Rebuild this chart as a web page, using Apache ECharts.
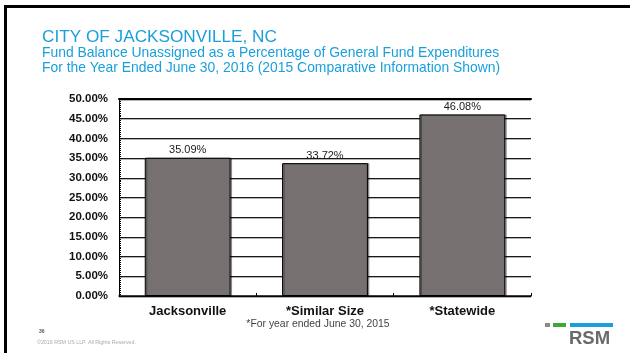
<!DOCTYPE html>
<html>
<head>
<meta charset="utf-8">
<script src="https://cdn.jsdelivr.net/npm/echarts@6/dist/echarts.min.js"></script>
<style>
  html, body { margin: 0; padding: 0; background: #fff; }
  #chart { width: 630px; height: 353px; }
</style>
</head>
<body>
<div id="chart"></div>
<script>
// Unassigned fund balance as % of general fund expenditures
const categories = ['Jacksonville', '*Similar Size', '*Statewide'];
const fundBalancePct = [35.09, 33.72, 46.08];
const yTickMin = 0;
const yTickMax = 50;
const yTickStep = 5;

const titleText = 'CITY OF JACKSONVILLE, NC';
const subtitleLines = [
  'Fund Balance Unassigned as a Percentage of General Fund Expenditures',
  'For the Year Ended June 30, 2016 (2015 Comparative Information Shown)'
];
const footnote = '*For year ended June 30, 2015';
const pageNumber = '36';
const copyright = '\u00A92016 RSM US LLP. All Rights Reserved.';

const blue = '#1a9fdc';
const chart = echarts.init(document.getElementById('chart'), null, { renderer: 'canvas' });

const hiddenAxisBase = {
  type: 'category',
  data: categories,
  gridIndex: 0,
  axisLabel: { show: false },
  splitLine: { show: false }
};

chart.setOption({
  animation: false,
  backgroundColor: '#fff',
  grid: { left: 119, right: 99, top: 99, bottom: 57, containLabel: false },
  xAxis: [
    {
      type: 'category',
      data: categories,
      position: 'bottom',
      axisLine: { show: true, lineStyle: { color: '#000', width: 1.5 } },
      axisTick: { show: true, inside: true, length: 3, lineStyle: { color: '#000' } },
      axisLabel: {
        margin: 9,
        color: '#111',
        fontFamily: 'Liberation Sans, Arial',
        fontWeight: 'bold',
        fontSize: 13
      },
      splitLine: { show: false }
    },
    Object.assign({}, hiddenAxisBase, {
      position: 'bottom',
      axisLine: { show: false },
      axisTick: { show: true, inside: true, alignWithLabel: true, length: 3, lineStyle: { color: '#000' } }
    }),
    Object.assign({}, hiddenAxisBase, {
      position: 'top',
      axisLine: { show: true, lineStyle: { color: '#000', width: 2 } },
      axisTick: { show: false }
    })
  ],
  yAxis: {
    type: 'value',
    min: yTickMin,
    max: yTickMax,
    interval: yTickStep,
    axisLine: { show: true, lineStyle: { color: '#000', width: 1 } },
    axisTick: { show: true, inside: true, length: 3, lineStyle: { color: '#000' } },
    minorTick: { show: true, splitNumber: 10, length: 2, lineStyle: { color: '#000' } },
    axisLabel: {
      margin: 11,
      color: '#111',
      fontFamily: 'Liberation Sans, Arial',
      fontWeight: 'bold',
      fontSize: 11.5,
      formatter: v => v.toFixed(2) + '%'
    },
    splitLine: {
      show: true,
      lineStyle: { color: '#1a1a1a', width: 1, shadowColor: 'rgba(0,0,0,0.3)', shadowOffsetY: 1, shadowBlur: 0 }
    }
  },
  series: [{
    type: 'bar',
    xAxisIndex: 0,
    data: fundBalancePct,
    barCategoryGap: '37.5%',
    itemStyle: {
      color: '#767170',
      borderColor: '#000',
      borderWidth: 1,
      shadowColor: 'rgba(0,0,0,0.35)',
      shadowOffsetX: 1.5,
      shadowOffsetY: 0,
      shadowBlur: 0
    },
    label: {
      show: true,
      position: 'top',
      distance: 2,
      color: '#1a1a1a',
      fontFamily: 'Liberation Sans, Arial',
      fontSize: 11,
      formatter: p => p.value.toFixed(2) + '%'
    }
  }],
  graphic: [
    // slide frame
    { type: 'rect', shape: { x: 4, y: 5, width: 626, height: 3 }, style: { fill: '#000' } },
    { type: 'rect', shape: { x: 4, y: 5, width: 3, height: 348 }, style: { fill: '#000' } },
    // heading
    { type: 'text', x: 42, y: 37, style: { text: titleText, fill: blue, font: '17.2px "Liberation Sans", Arial', textVerticalAlign: 'middle' } },
    { type: 'text', x: 42, y: 53.5, style: { text: subtitleLines[0], fill: blue, font: '13.9px "Liberation Sans", Arial', textVerticalAlign: 'middle' } },
    { type: 'text', x: 42, y: 68, style: { text: subtitleLines[1], fill: blue, font: '13.9px "Liberation Sans", Arial', textVerticalAlign: 'middle' } },
    // footnote under the axis
    { type: 'text', x: 318, y: 324, style: { text: footnote, fill: '#444', font: '10.4px "Liberation Sans", Arial', textAlign: 'center', textVerticalAlign: 'middle' } },
    // page footer
    { type: 'text', x: 39, y: 332, style: { text: pageNumber, fill: '#555', font: 'bold 5px "Liberation Sans", Arial', textVerticalAlign: 'middle' } },
    { type: 'text', x: 37, y: 343, style: { text: copyright, fill: '#aaa', font: '5.3px "Liberation Sans", Arial', textVerticalAlign: 'middle' } },
    // RSM mark
    { type: 'rect', shape: { x: 545, y: 323, width: 5, height: 4 }, style: { fill: '#8a8a8a' } },
    { type: 'rect', shape: { x: 553, y: 323, width: 13, height: 4 }, style: { fill: '#3aaa35' } },
    { type: 'rect', shape: { x: 570, y: 323, width: 43, height: 4 }, style: { fill: '#1a9fdc' } },
    { type: 'text', x: 569, y: 339, style: { text: 'RSM', fill: '#6a6a6a', font: 'bold 18.5px "Liberation Sans", Arial', textVerticalAlign: 'middle' } }
  ]
});
</script>
</body>
</html>
